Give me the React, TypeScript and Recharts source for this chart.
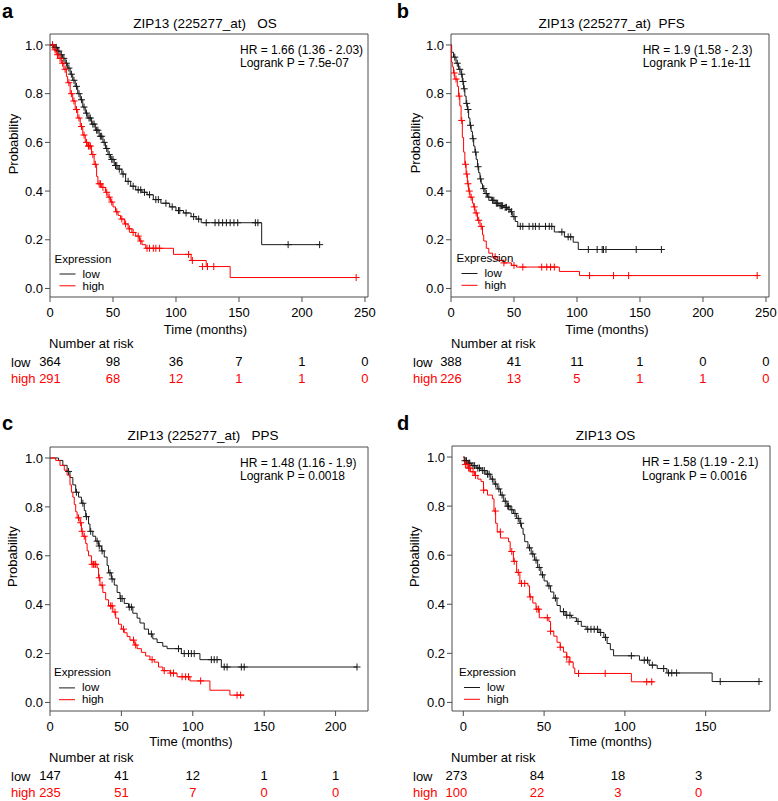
import React from "react";
import { ComposedChart, Line, Scatter, XAxis, YAxis, ReferenceArea } from "recharts";

const FONT = "'Liberation Sans', Arial, Helvetica, sans-serif";
const RED = "#ff0000";
const INK = "#000";
const FRAME = "#4d4d4d";

// ---- panel a : ZIP13 (225277_at) OS ----
const aTicks = [0, 50, 100, 150, 200, 250];
const aRiskLow = [364, 98, 36, 7, 1, 0];
const aRiskHigh = [291, 68, 12, 1, 1, 0];
const aLow = [
  [0, 1], [3, 0.99], [6, 0.975], [8, 0.96], [10, 0.945], [12, 0.925], [14, 0.905], [16, 0.88],
  [18, 0.855], [20, 0.83], [22, 0.8], [24, 0.775], [26, 0.745], [28, 0.72], [30, 0.7], [33, 0.675],
  [36, 0.65], [39, 0.625], [42, 0.6], [44, 0.575], [46, 0.55], [48, 0.53], [51, 0.505], [54, 0.49],
  [57, 0.47], [60, 0.44], [64, 0.42], [68, 0.405], [73, 0.395], [77, 0.385], [82, 0.365], [88, 0.35],
  [95, 0.335], [100, 0.32], [106, 0.31], [112, 0.295], [116, 0.285], [120, 0.27], [168, 0.18], [214, 0.18],
];
const aLowCens = [
  [2, 1], [4, 0.99], [5, 0.99], [7, 0.975], [9, 0.96], [11, 0.945], [13, 0.925], [15, 0.905], [17, 0.88],
  [19, 0.855], [21, 0.83], [23, 0.8], [25, 0.775], [27, 0.745], [29, 0.72], [31, 0.7], [32, 0.7],
  [34, 0.675], [35, 0.675], [37, 0.65], [38, 0.65], [40, 0.625], [41, 0.625], [43, 0.6], [45, 0.575],
  [47, 0.55], [49, 0.53], [50, 0.53], [52, 0.505], [53, 0.505], [55, 0.49], [58, 0.47], [62, 0.44],
  [66, 0.42], [70, 0.405], [72, 0.405], [75, 0.395], [79, 0.385], [84, 0.365], [86, 0.365], [92, 0.35],
  [97, 0.335], [102, 0.32], [103, 0.32], [108, 0.31], [114, 0.295], [118, 0.285], [124, 0.27],
  [131, 0.27], [134, 0.27], [137, 0.27], [140, 0.27], [143, 0.27], [146, 0.27], [149, 0.27],
  [163, 0.27], [165, 0.27], [189, 0.18], [214, 0.18],
];
const aHigh = [
  [0, 1], [3, 0.98], [5, 0.96], [7, 0.945], [9, 0.925], [11, 0.9], [13, 0.87], [14, 0.845], [16, 0.8],
  [18, 0.77], [20, 0.735], [22, 0.7], [24, 0.665], [26, 0.63], [28, 0.6], [30, 0.585], [33, 0.55],
  [35, 0.51], [37, 0.46], [38, 0.43], [41, 0.415], [44, 0.395], [46, 0.375], [48, 0.355], [50, 0.335],
  [52, 0.315], [54, 0.3], [56, 0.285], [59, 0.265], [62, 0.245], [65, 0.23], [68, 0.215], [71, 0.195],
  [73, 0.18], [76, 0.165], [98, 0.14], [112, 0.115], [124, 0.09], [143, 0.045], [243, 0.045],
];
const aHighCens = [
  [2, 1], [4, 0.98], [6, 0.96], [8, 0.945], [10, 0.925], [12, 0.9], [15, 0.845], [17, 0.8], [19, 0.77],
  [21, 0.735], [23, 0.7], [25, 0.665], [27, 0.63], [29, 0.6], [30.5, 0.585], [31, 0.585], [32, 0.585],
  [34, 0.55], [36, 0.51], [39, 0.43], [40, 0.43], [42, 0.415], [45, 0.395], [47, 0.375], [49, 0.355],
  [53, 0.315], [57, 0.285], [60, 0.265], [63, 0.245], [66, 0.23], [70, 0.215], [72, 0.195],
  [77, 0.165], [79, 0.165], [82, 0.165], [84, 0.165], [87, 0.165], [110, 0.14], [113, 0.115],
  [121, 0.09], [125, 0.09], [130, 0.09], [243, 0.045],
];

// ---- panel b : ZIP13 (225277_at) PFS ----
const bTicks = [0, 50, 100, 150, 200, 250];
const bRiskLow = [388, 41, 11, 1, 0, 0];
const bRiskHigh = [226, 13, 5, 1, 1, 0];
const bLow = [
  [0, 1], [0.5, 0.97], [2, 0.95], [4, 0.925], [6, 0.9], [8, 0.88], [9, 0.85], [10, 0.82], [11, 0.79],
  [12, 0.76], [13, 0.735], [14, 0.7], [15, 0.67], [16, 0.645], [17, 0.615], [18, 0.585], [19, 0.56],
  [20, 0.53], [21, 0.5], [22, 0.475], [23, 0.45], [24, 0.43], [25, 0.41], [27, 0.39], [29, 0.375],
  [32, 0.362], [35, 0.35], [38, 0.34], [42, 0.333], [45, 0.325], [47, 0.315], [49, 0.295], [51, 0.275],
  [53, 0.255], [82, 0.232], [90, 0.212], [97, 0.19], [101, 0.16], [167, 0.16],
];
const bLowCens = [
  [3, 0.95], [5, 0.925], [7, 0.9], [8.5, 0.88], [9.5, 0.85], [10.5, 0.82], [12.5, 0.76], [13.5, 0.735],
  [15.5, 0.67], [17.5, 0.615], [19.5, 0.56], [21.5, 0.5], [23.5, 0.45], [26, 0.41], [28, 0.39],
  [30, 0.375], [33, 0.362], [34, 0.362], [36, 0.35], [37, 0.35], [39, 0.34], [40, 0.34], [41, 0.34],
  [43, 0.333], [44, 0.333], [46, 0.325], [48, 0.315], [50, 0.295], [55, 0.255], [57, 0.255],
  [62, 0.255], [65, 0.255], [67, 0.255], [70, 0.255], [75, 0.255], [78, 0.255], [80, 0.255],
  [88, 0.232], [93, 0.212], [95, 0.212], [109, 0.16], [116, 0.16], [120, 0.16], [121, 0.16],
  [123, 0.16], [147, 0.16], [167, 0.16],
];
const bHigh = [
  [0, 1], [0.3, 0.93], [1, 0.91], [2, 0.885], [3, 0.86], [5, 0.83], [6, 0.79], [7, 0.75], [8, 0.69],
  [9, 0.62], [10, 0.56], [11, 0.51], [12, 0.47], [13, 0.43], [14, 0.4], [15, 0.375], [17, 0.35],
  [18, 0.335], [19, 0.31], [21, 0.28], [23, 0.255], [25, 0.22], [26, 0.195], [28, 0.165], [30, 0.145],
  [33, 0.13], [37, 0.115], [42, 0.105], [48, 0.095], [52, 0.088], [86, 0.07], [102, 0.053], [243, 0.053],
];
const bHighCens = [
  [2.5, 0.885], [4, 0.86], [6.5, 0.79], [8.5, 0.69], [11.5, 0.51], [12.5, 0.47], [13.5, 0.43],
  [14.5, 0.4], [16, 0.375], [18.5, 0.335], [20, 0.31], [22, 0.28], [24, 0.255], [35, 0.13],
  [42, 0.105], [50, 0.095], [57, 0.088], [72, 0.088], [76, 0.088], [79, 0.088], [82, 0.088],
  [110, 0.053], [129, 0.053], [141, 0.053], [243, 0.053],
];

// ---- panel c : ZIP13 (225277_at) PPS ----
const cTicks = [0, 50, 100, 150, 200];
const cRiskLow = [147, 41, 12, 1, 1];
const cRiskHigh = [235, 51, 7, 0, 0];
const cLow = [
  [0, 1], [6, 0.99], [9, 0.97], [12, 0.945], [14, 0.92], [16, 0.89], [18, 0.86], [20, 0.84], [22, 0.815],
  [24, 0.785], [25, 0.76], [27, 0.73], [28, 0.7], [30, 0.68], [32, 0.66], [34, 0.64], [36, 0.62],
  [38, 0.595], [40, 0.56], [41, 0.53], [43, 0.505], [45, 0.48], [47, 0.45], [49, 0.425], [52, 0.405],
  [55, 0.39], [58, 0.365], [61, 0.345], [63, 0.325], [66, 0.3], [69, 0.28], [72, 0.26], [75, 0.245],
  [79, 0.23], [82, 0.22], [92, 0.2], [105, 0.175], [120, 0.145], [215, 0.145],
];
const cLowCens = [
  [13, 0.945], [18.5, 0.86], [23, 0.815], [25.5, 0.76], [28.5, 0.7], [33, 0.66], [34.5, 0.64],
  [36.5, 0.62], [42, 0.53], [43.5, 0.505], [49.5, 0.425], [50.5, 0.425], [55.5, 0.39], [57, 0.39],
  [71, 0.28], [90, 0.22], [94, 0.2], [97, 0.2], [99, 0.2], [101, 0.2], [113, 0.175], [115, 0.175],
  [117, 0.175], [122, 0.145], [124, 0.145], [134, 0.145], [136, 0.145], [215, 0.145],
];
const cHigh = [
  [0, 1], [4, 0.99], [7, 0.97], [10, 0.95], [12, 0.93], [14, 0.89], [15, 0.86], [16, 0.84], [17, 0.81],
  [18, 0.78], [19, 0.755], [21, 0.735], [22, 0.7], [23, 0.68], [25, 0.65], [26, 0.62], [27, 0.6],
  [29, 0.565], [33, 0.55], [34, 0.51], [35, 0.48], [37, 0.45], [39, 0.42], [41, 0.395], [44, 0.37],
  [46, 0.345], [48, 0.32], [50, 0.3], [52, 0.285], [54, 0.27], [56, 0.255], [59, 0.235], [61, 0.22],
  [64, 0.205], [67, 0.19], [70, 0.175], [73, 0.165], [76, 0.145], [79, 0.13], [84, 0.12], [89, 0.105],
  [98, 0.088], [112, 0.05], [126, 0.03], [136, 0.03],
];
const cHighCens = [
  [20, 0.755], [21.5, 0.735], [22.5, 0.7], [24, 0.68], [29.5, 0.565], [30.5, 0.565], [31.5, 0.565],
  [32, 0.565], [34.5, 0.51], [36.5, 0.48], [42.5, 0.395], [43.5, 0.395], [45.5, 0.37], [51.5, 0.3],
  [58.5, 0.255], [60, 0.235], [71.5, 0.175], [80, 0.13], [84.5, 0.12], [86.5, 0.12], [92.5, 0.105],
  [95, 0.105], [97, 0.105], [105.5, 0.088], [131, 0.03], [133.5, 0.03],
];

// ---- panel d : ZIP13 OS ----
const dTicks = [0, 50, 100, 150];
const dRiskLow = [273, 84, 18, 3];
const dRiskHigh = [100, 22, 3, 0];
const dLow = [
  [0, 1], [1, 0.985], [3, 0.975], [5, 0.965], [8, 0.955], [11, 0.945], [14, 0.93], [17, 0.91], [19, 0.89],
  [21, 0.87], [23, 0.845], [25, 0.82], [27, 0.8], [29, 0.785], [31, 0.77], [33, 0.75], [35, 0.73],
  [36, 0.71], [37, 0.685], [38, 0.655], [40, 0.63], [42, 0.605], [44, 0.58], [46, 0.55], [48, 0.52],
  [50, 0.495], [52, 0.475], [54, 0.45], [56, 0.425], [58, 0.395], [60, 0.37], [63, 0.355], [67, 0.345],
  [70, 0.33], [73, 0.31], [76, 0.298], [84, 0.285], [87, 0.265], [89, 0.24], [91, 0.215], [93, 0.19],
  [109, 0.172], [115, 0.152], [120, 0.138], [126, 0.12], [154, 0.085], [183, 0.085],
];
const dLowCens = [
  [1, 0.985], [2, 0.985], [3.5, 0.975], [4, 0.975], [6, 0.965], [7, 0.965], [9, 0.955], [10, 0.955],
  [12, 0.945], [13, 0.945], [15, 0.93], [16, 0.93], [18, 0.91], [20, 0.89], [22, 0.87], [24, 0.845],
  [26, 0.82], [27.5, 0.8], [28, 0.8], [30, 0.785], [32, 0.77], [34, 0.75], [35.5, 0.73], [41, 0.63],
  [43, 0.605], [45, 0.58], [47, 0.55], [49, 0.52], [53, 0.475], [57, 0.425], [62, 0.37], [64, 0.355],
  [66, 0.355], [71, 0.33], [77, 0.298], [79, 0.298], [81, 0.298], [83, 0.298], [85, 0.285],
  [88, 0.265], [104, 0.19], [112, 0.172], [114, 0.172], [117, 0.152], [124, 0.138], [127, 0.12],
  [129, 0.12], [132, 0.12], [159, 0.085], [183, 0.085],
];
const dHigh = [
  [0, 1], [0.5, 0.985], [1, 0.97], [3, 0.955], [4.5, 0.94], [7, 0.925], [9, 0.91], [11, 0.9],
  [12.5, 0.865], [15, 0.845], [18, 0.83], [19, 0.78], [20, 0.73], [21, 0.695], [23, 0.67], [28, 0.655],
  [29, 0.615], [31, 0.575], [33, 0.53], [35, 0.485], [40, 0.475], [41, 0.43], [43, 0.405], [45, 0.38],
  [47, 0.345], [53, 0.33], [54, 0.29], [56, 0.27], [58, 0.245], [60, 0.225], [62, 0.205], [64, 0.185],
  [66, 0.165], [68, 0.14], [69, 0.118], [104, 0.084], [118, 0.084],
];
const dHighCens = [
  [1.3, 0.97], [2.3, 0.97], [3.3, 0.955], [4, 0.955], [6, 0.94], [7.5, 0.925], [12.6, 0.865],
  [19.8, 0.78], [22.9, 0.695], [30, 0.615], [31.5, 0.575], [34, 0.53], [36, 0.485], [38, 0.485],
  [41.4, 0.43], [45.5, 0.38], [46.6, 0.38], [52, 0.345], [54, 0.29], [60, 0.225], [64, 0.185],
  [65.5, 0.165], [71.3, 0.118], [87.8, 0.118], [113.5, 0.084], [116.6, 0.084],
];

const yTicks = [0, 0.2, 0.4, 0.6, 0.8, 1.0];

const toPts = (rows: number[][]) => rows.map(([t, s]) => ({ t, s }));

const plus = (color: string) => (props: any) => {
  const { cx, cy } = props;
  if (cx == null || cy == null) return <g />;
  return (
    <path
      d={`M${cx - 3.5},${cy}H${cx + 3.5}M${cx},${cy - 3.5}V${cy + 3.5}`}
      stroke={color}
      strokeWidth={1}
      fill="none"
    />
  );
};

const panels = [
  {
    letter: "a", left: 0, top: 0, width: 389, height: 400,
    plot: { left: 50, right: 368, top: 34, bottom: 297 }, yAxisWidth: 45,
    xDomain: [0, 252.4], ticks: aTicks,
    low: aLow, lowCens: aLowCens, high: aHigh, highCens: aHighCens,
    riskLow: aRiskLow, riskHigh: aRiskHigh, riskShift: 0,
    title: "ZIP13 (225277_at)   OS", titleX: 205, titleY: 28,
    hr: ["HR = 1.66 (1.36 - 2.03)", "Logrank P = 7.5e-07"], hrX: 240, hrY: 54,
    letterX: 2, letterY: 18, probX: 17.5, probY: 144, timeX: 205.5, timeY: 333.5,
    narX: 49, narY: 347.5, rowX: 11, tickY: 317, lowY: 366, highY: 383,
    legendX: 54.5, legendY: 262.5,
  },
  {
    letter: "b", left: 389, top: 0, width: 389, height: 400,
    plot: { left: 62, right: 380, top: 34, bottom: 297 }, yAxisWidth: 57,
    xDomain: [0, 252.4], ticks: bTicks,
    low: bLow, lowCens: bLowCens, high: bHigh, highCens: bHighCens,
    riskLow: bRiskLow, riskHigh: bRiskHigh, riskShift: 0,
    title: "ZIP13 (225277_at)  PFS", titleX: 222.7, titleY: 28,
    hr: ["HR = 1.9 (1.58 - 2.3)", "Logrank P = 1.1e-11"], hrX: 253.7, hrY: 54,
    letterX: 7.7, letterY: 18, probX: 30.5, probY: 143, timeX: 218, timeY: 333.5,
    narX: 62, narY: 347.5, rowX: 24, tickY: 317, lowY: 366, highY: 383,
    legendX: 67.5, legendY: 262,
  },
  {
    letter: "c", left: 0, top: 400, width: 389, height: 401,
    plot: { left: 50, right: 368, top: 47, bottom: 311 }, yAxisWidth: 45,
    xDomain: [0, 222.7], ticks: cTicks,
    low: cLow, lowCens: cLowCens, high: cHigh, highCens: cHighCens,
    riskLow: cRiskLow, riskHigh: cRiskHigh, riskShift: 0,
    title: "ZIP13 (225277_at)   PPS", titleX: 203, titleY: 40,
    hr: ["HR = 1.48 (1.16 - 1.9)", "Logrank P = 0.0018"], hrX: 240, hrY: 67,
    letterX: 2, letterY: 30, probX: 17.5, probY: 156.7, timeX: 191, timeY: 346,
    narX: 49, narY: 361.7, rowX: 11, tickY: 330.5, lowY: 380, highY: 396.5,
    legendX: 54, legendY: 276.4,
  },
  {
    letter: "d", left: 389, top: 400, width: 389, height: 401,
    plot: { left: 63, right: 381, top: 46, bottom: 311 }, yAxisWidth: 58,
    xDomain: [-7, 189.8], ticks: dTicks,
    low: dLow, lowCens: dLowCens, high: dHigh, highCens: dHighCens,
    riskLow: dRiskLow, riskHigh: dRiskHigh, riskShift: -7,
    title: "ZIP13 OS", titleX: 216.5, titleY: 40,
    hr: ["HR = 1.58 (1.19 - 2.1)", "Logrank P = 0.0016"], hrX: 253, hrY: 66.3,
    letterX: 8, letterY: 30, probX: 30.5, probY: 156.7, timeX: 221.3, timeY: 346,
    narX: 62, narY: 361.7, rowX: 24, tickY: 330.5, lowY: 380, highY: 396.5,
    legendX: 70, legendY: 276,
  },
];

const yDomain = [-0.035, 1.045];
const X_AXIS_H = 80;

function KMPanel({ p }: { p: any }) {
  const margin = {
    top: p.plot.top,
    left: p.plot.left - p.yAxisWidth,
    right: p.width - p.plot.right,
    bottom: p.height - p.plot.bottom - X_AXIS_H,
  };

  // x tick label plus the "Number at risk" counts under it
  const riskTick = (props: any) => {
    const { x, payload } = props;
    const i = p.ticks.indexOf(payload.value);
    return (
      <g fontFamily={FONT} fontSize={13}>
        <text x={x} y={p.tickY} textAnchor="middle" fill={INK}>{payload.value}</text>
        <text x={x + p.riskShift} y={p.lowY} textAnchor="middle" fill={INK}>{p.riskLow[i]}</text>
        <text x={x + p.riskShift} y={p.highY} textAnchor="middle" fill={RED}>{p.riskHigh[i]}</text>
      </g>
    );
  };

  const lx = p.legendX;
  const ly = p.legendY;

  return (
    <div style={{ position: "absolute", left: p.left, top: p.top, width: p.width, height: p.height }}>
      <ComposedChart width={p.width} height={p.height} margin={margin}>
        <XAxis
          dataKey="t"
          type="number"
          domain={p.xDomain}
          ticks={p.ticks}
          interval={0}
          allowDataOverflow
          height={X_AXIS_H}
          axisLine={false}
          tickSize={5}
          tickLine={{ stroke: FRAME }}
          tick={riskTick}
        />
        <YAxis
          dataKey="s"
          type="number"
          domain={yDomain}
          ticks={yTicks}
          interval={0}
          allowDataOverflow
          width={p.yAxisWidth}
          axisLine={false}
          tickSize={5}
          tickMargin={2}
          tickLine={{ stroke: FRAME }}
          tickFormatter={(v: number) => v.toFixed(1)}
          tick={{ fontSize: 13, fill: INK, fontFamily: FONT }}
        />
        <ReferenceArea
          x1={p.xDomain[0]}
          x2={p.xDomain[1]}
          y1={yDomain[0]}
          y2={yDomain[1]}
          fill="none"
          fillOpacity={0}
          stroke={FRAME}
          strokeWidth={1}
          ifOverflow="visible"
        />
        <Line data={toPts(p.low)} dataKey="s" type="stepAfter" stroke="#1a1a1a" strokeWidth={1} dot={false} isAnimationActive={false} />
        <Line data={toPts(p.high)} dataKey="s" type="stepAfter" stroke={RED} strokeWidth={1} dot={false} isAnimationActive={false} />
        <Scatter data={toPts(p.lowCens)} dataKey="s" shape={plus("#1a1a1a")} isAnimationActive={false} />
        <Scatter data={toPts(p.highCens)} dataKey="s" shape={plus(RED)} isAnimationActive={false} />
      </ComposedChart>

      <svg
        width={p.width}
        height={p.height}
        style={{ position: "absolute", left: 0, top: 0, pointerEvents: "none" }}
        fontFamily={FONT}
        fill={INK}
      >
        <text x={p.letterX} y={p.letterY} fontSize={20} fontWeight="bold">{p.letter}</text>
        <text x={p.titleX} y={p.titleY} fontSize={13.5} textAnchor="middle" style={{ whiteSpace: "pre" }}>{p.title}</text>
        <text x={p.hrX} y={p.hrY} fontSize={12}>{p.hr[0]}</text>
        <text x={p.hrX} y={p.hrY + 13.3} fontSize={12}>{p.hr[1]}</text>
        <text
          x={p.probX}
          y={p.probY}
          fontSize={13}
          textAnchor="middle"
          transform={`rotate(-90 ${p.probX} ${p.probY})`}
        >
          Probability
        </text>
        <text x={lx} y={ly} fontSize={11.5}>Expression</text>
        <line x1={lx + 5} x2={lx + 21} y1={ly + 11.5} y2={ly + 11.5} stroke="#1a1a1a" strokeWidth={1} />
        <text x={lx + 28} y={ly + 15} fontSize={11.5}>low</text>
        <line x1={lx + 5} x2={lx + 21} y1={ly + 23.3} y2={ly + 23.3} stroke={RED} strokeWidth={1} />
        <text x={lx + 28} y={ly + 27} fontSize={11.5}>high</text>
        <text x={p.timeX} y={p.timeY} fontSize={13} textAnchor="middle">Time (months)</text>
        <text x={p.narX} y={p.narY} fontSize={13}>Number at risk</text>
        <text x={p.rowX} y={p.lowY + 1} fontSize={13}>low</text>
        <text x={p.rowX} y={p.highY} fontSize={13} fill={RED}>high</text>
      </svg>
    </div>
  );
}

export default function App() {
  return (
    <div style={{ position: "absolute", left: 0, top: 0, width: 778, height: 801, background: "#fff" }}>
      {panels.map((p) => (
        <KMPanel key={p.letter} p={p} />
      ))}
    </div>
  );
}
